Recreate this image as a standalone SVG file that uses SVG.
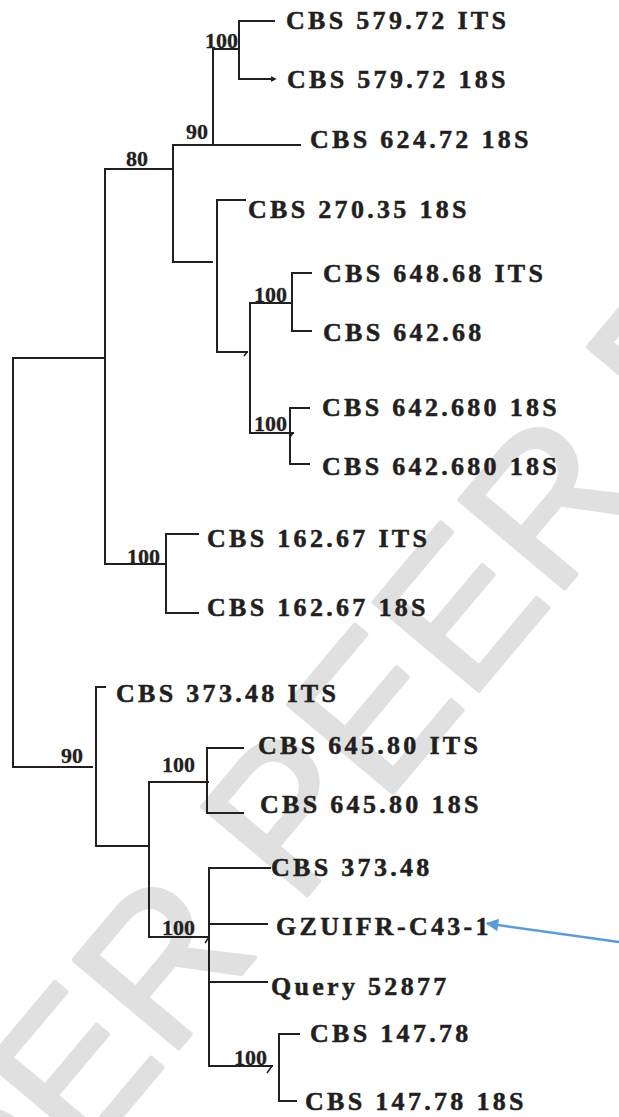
<svg xmlns="http://www.w3.org/2000/svg" width="619" height="1117" viewBox="0 0 619 1117">
<style>
.wm{font-family:"Liberation Sans",Arial,sans-serif;font-size:200px;fill:#e0e0e0;stroke:#e0e0e0;stroke-width:4px;stroke-linejoin:round}
.br{fill:none;stroke:#231f20;stroke-width:2;stroke-linecap:square}
.tk{fill:none;stroke:#231f20;stroke-width:1.5}
.leaf{font-family:"Liberation Serif","Times New Roman",serif;font-weight:bold;font-size:26px;letter-spacing:3.3px;fill:#231f20;stroke:#231f20;stroke-width:0.5px}
.bs{font-family:"Liberation Serif","Times New Roman",serif;font-weight:bold;font-size:22px;fill:#231f20;stroke:#231f20;stroke-width:0.3px}
</style>
<defs>
<marker id="ah" viewBox="0 0 10 10" refX="9" refY="5" markerWidth="6" markerHeight="5" markerUnits="strokeWidth" orient="auto">
<path d="M0,0 L10,5 L0,10 z" fill="#5b9bd5"/>
</marker>
</defs>
<rect width="619" height="1117" fill="#ffffff"/>
<g id="watermark">
<text class="wm" transform="translate(-196,1495) rotate(-50)">UNDER PEER REVIEW</text>
</g>
<g id="connectors">
<path class="br" d="M274,21 H239 V79 H274"/>
<path class="br" d="M239,49 H213 V145"/>
<path class="br" d="M173,145 H300"/>
<path class="br" d="M212,262 H173 V145"/>
<path class="br" d="M245,200 H217 V352 H247"/>
<path class="br" d="M292,303 H250 V433 H293"/>
<path class="br" d="M311,273 H292 V331 H311"/>
<path class="br" d="M309,408 H290 V464 H309"/>
<path class="br" d="M173,169 H105 V564 H166"/>
<path class="br" d="M198,534 H166 V613 H198"/>
<path class="br" d="M105,358 H13 V767 H92"/>
<path class="br" d="M105,687 H96 V846 H149"/>
<path class="br" d="M208,782 H149 V937 H209"/>
<path class="br" d="M243,748 H207 V813 H243"/>
<path class="br" d="M270,868 H209 V1066 H272"/>
<path class="br" d="M209,924 H267"/>
<path class="br" d="M209,982 H267"/>
<path class="br" d="M299,1034 H279 V1101 H296"/>
<path class="tk" d="M247,352 L244,356 M293,433 L290,437 M209,937 L205,943 M272,1066 L267,1073 M271,77 L275,79 L271,81"/>
<line x1="619" y1="942" x2="487" y2="923.5" stroke="#5b9bd5" stroke-width="2.5" marker-end="url(#ah)"/>
</g>
<g id="support-labels">
<text class="bs" x="205" y="48">100</text>
<text class="bs" x="186" y="139">90</text>
<text class="bs" x="126" y="166">80</text>
<text class="bs" x="254" y="302">100</text>
<text class="bs" x="254" y="431">100</text>
<text class="bs" x="127" y="564">100</text>
<text class="bs" x="61" y="763">90</text>
<text class="bs" x="162" y="772">100</text>
<text class="bs" x="162" y="935">100</text>
<text class="bs" x="234" y="1065">100</text>
</g>
<g id="leaf-cbs579-its"><text class="leaf" x="286" y="29">CBS 579.72 ITS</text></g>
<g id="leaf-cbs579-18s"><text class="leaf" x="287" y="88">CBS 579.72 18S</text></g>
<g id="leaf-cbs624"><text class="leaf" x="310" y="148">CBS 624.72 18S</text></g>
<g id="leaf-cbs270"><text class="leaf" x="248" y="218">CBS 270.35 18S</text></g>
<g id="leaf-cbs648"><text class="leaf" x="323" y="282">CBS 648.68 ITS</text></g>
<g id="leaf-cbs642"><text class="leaf" x="323" y="341">CBS 642.68</text></g>
<g id="leaf-cbs642680-a"><text class="leaf" x="322" y="416">CBS 642.680 18S</text></g>
<g id="leaf-cbs642680-b"><text class="leaf" x="322" y="475">CBS 642.680 18S</text></g>
<g id="leaf-cbs162-its"><text class="leaf" x="207" y="547">CBS 162.67 ITS</text></g>
<g id="leaf-cbs162-18s"><text class="leaf" x="207" y="616">CBS 162.67 18S</text></g>
<g id="leaf-cbs373-its"><text class="leaf" x="116" y="702">CBS 373.48 ITS</text></g>
<g id="leaf-cbs645-its"><text class="leaf" x="258" y="754">CBS 645.80 ITS</text></g>
<g id="leaf-cbs645-18s"><text class="leaf" x="260" y="813">CBS 645.80 18S</text></g>
<g id="leaf-cbs373"><text class="leaf" x="271" y="876">CBS 373.48</text></g>
<g id="leaf-gzuifr"><text class="leaf" x="276" y="935">GZUIFR-C43-1</text></g>
<g id="leaf-query"><text class="leaf" x="271" y="995">Query 52877</text></g>
<g id="leaf-cbs147"><text class="leaf" x="310" y="1042">CBS 147.78</text></g>
<g id="leaf-cbs147-18s"><text class="leaf" x="305" y="1110">CBS 147.78 18S</text></g>
</svg>
